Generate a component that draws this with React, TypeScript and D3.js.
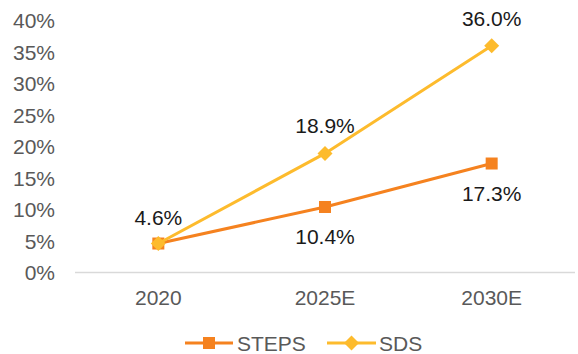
import React from "react";
import * as d3 from "d3";

const categories = ["2020", "2025E", "2030E"];
const stepsValues = [4.6, 10.4, 17.3];
const sdsValues = [4.6, 18.9, 36.0];
const yTicks = [0, 5, 10, 15, 20, 25, 30, 35, 40];
const seriesNames = ["STEPS", "SDS"];

const W = 578;
const H = 354;
const FONT = "'Liberation Sans', Arial, sans-serif";
const STEPS_COLOR = "#F5821F";
const SDS_COLOR = "#FDBB2D";

export default function App() {
  const x = d3.scaleBand<string>().domain(categories).range([75, 575]);
  const y = d3.scaleLinear().domain([0, 40]).range([272.5, 20.5]);
  const cx = (c: string) => (x(c) as number) + x.bandwidth() / 2;
  const line = d3
    .line<number>()
    .x((_, i) => cx(categories[i]))
    .y((d) => y(d));

  const diamond = (px: number, py: number, r: number) =>
    `M${px},${py - r}L${px + r},${py}L${px},${py + r}L${px - r},${py}Z`;

  const stepsLabelDy = [-26.5, 30, 30];
  const sdsLabelDy = [0, -27.5, -27.5];

  return (
    <svg
      width={W}
      height={H}
      style={{ position: "absolute", left: 0, top: 0, background: "#fff" }}
      fontFamily={FONT}
    >
      {yTicks.map((t) => (
        <text
          key={t}
          x={55}
          y={y(t)}
          textAnchor="end"
          dominantBaseline="central"
          fontSize={21}
          fill="#595959"
        >
          {t}%
        </text>
      ))}
      <line x1={75} x2={575} y1={272.5} y2={272.5} stroke="#D9D9D9" strokeWidth={1.5} />
      {categories.map((c) => (
        <text
          key={c}
          x={cx(c)}
          y={297}
          textAnchor="middle"
          dominantBaseline="central"
          fontSize={21}
          fill="#595959"
        >
          {c}
        </text>
      ))}
      <path d={line(stepsValues) || ""} fill="none" stroke={STEPS_COLOR} strokeWidth={3} />
      {stepsValues.map((v, i) => (
        <rect
          key={i}
          x={cx(categories[i]) - 6}
          y={y(v) - 6}
          width={12}
          height={12}
          fill={STEPS_COLOR}
        />
      ))}
      <path d={line(sdsValues) || ""} fill="none" stroke={SDS_COLOR} strokeWidth={3} />
      {sdsValues.map((v, i) => (
        <path key={i} d={diamond(cx(categories[i]), y(v), 7.5)} fill={SDS_COLOR} />
      ))}
      {stepsValues.map((v, i) => (
        <text
          key={"sl" + i}
          x={cx(categories[i])}
          y={y(v) + stepsLabelDy[i]}
          textAnchor="middle"
          dominantBaseline="central"
          fontSize={21}
          fill="#1a1a1a"
        >
          {v.toFixed(1)}%
        </text>
      ))}
      {sdsValues.map((v, i) =>
        i === 0 ? null : (
          <text
            key={"dl" + i}
            x={cx(categories[i])}
            y={y(v) + sdsLabelDy[i]}
            textAnchor="middle"
            dominantBaseline="central"
            fontSize={21}
            fill="#1a1a1a"
          >
            {v.toFixed(1)}%
          </text>
        )
      )}
      {/* Legend */}
      <g>
        <line x1={185} x2={233} y1={343} y2={343} stroke={STEPS_COLOR} strokeWidth={3} />
        <rect x={203} y={337} width={12} height={12} fill={STEPS_COLOR} />
        <text x={237} y={343} dominantBaseline="central" fontSize={21} fill="#595959">
          {seriesNames[0]}
        </text>
        <line x1={327} x2={376} y1={343} y2={343} stroke={SDS_COLOR} strokeWidth={3} />
        <path d={diamond(351.5, 343, 7.5)} fill={SDS_COLOR} />
        <text x={379} y={343} dominantBaseline="central" fontSize={21} fill="#595959">
          {seriesNames[1]}
        </text>
      </g>
    </svg>
  );
}
